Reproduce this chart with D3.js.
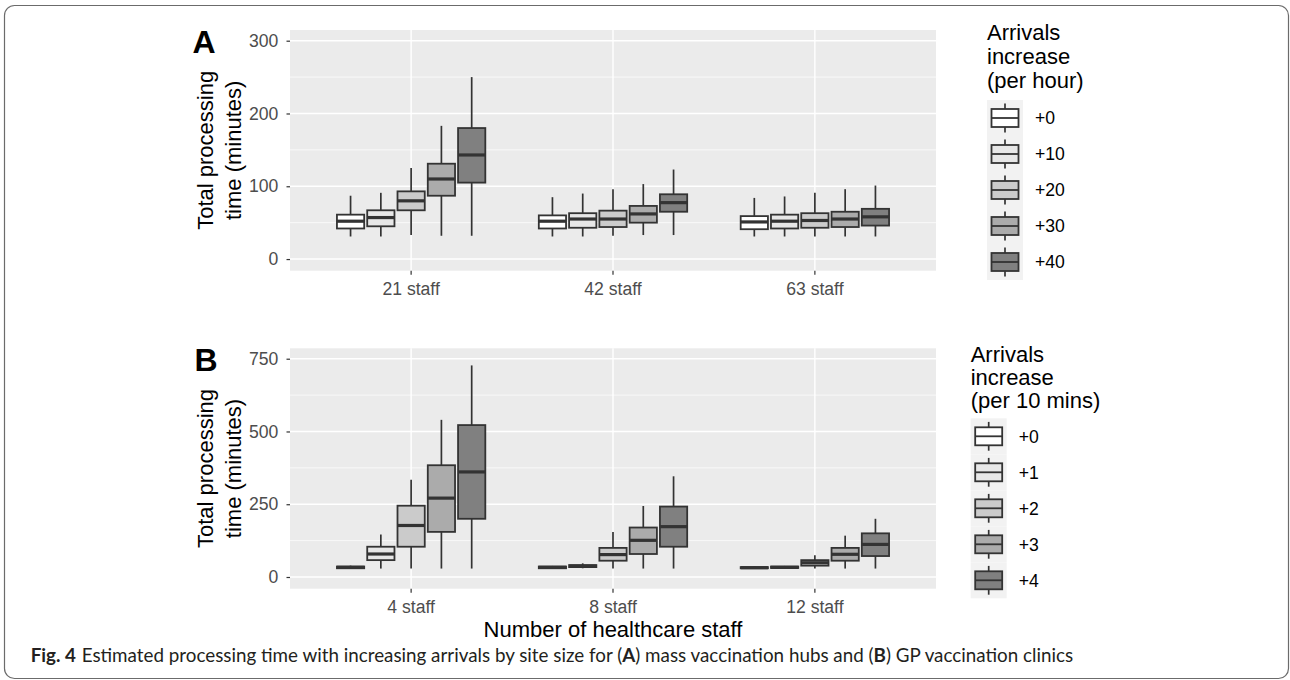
<!DOCTYPE html>
<html>
<head>
<meta charset="utf-8">
<script src="https://cdn.jsdelivr.net/npm/d3@7"></script>
<style>
  html, body { margin: 0; padding: 0; background: #fff; }
  svg { display: block; }
</style>
</head>
<body>
<svg id="chart" width="1290" height="680"></svg>
<script>
// ---------------- DATA ----------------
const categoriesA = ["21 staff", "42 staff", "63 staff"];
const groupsA = ["+0", "+10", "+20", "+30", "+40"];
// rows = categories, columns = groups
const whiskerLowA = [[31, 31, 33, 32, 32], [31, 31, 32, 33, 33], [31, 31, 31, 31, 31]];
const q1A         = [[42, 45, 67, 87, 105], [42, 43, 44, 50, 65], [41, 42, 43, 44, 46]];
const medianA     = [[52, 57, 80, 110, 143], [52, 55, 55, 62, 77.5], [51, 52, 53, 55, 58]];
const q3A         = [[61, 67, 93, 131, 180], [60, 63, 66.5, 73, 89], [59, 61, 63, 65, 69]];
const whiskerHighA= [[87, 91, 125, 183, 250], [85, 90, 96, 103, 123], [84, 86, 91, 96, 101]];
const yTicksA = [0, 100, 200, 300];
const yMinorA = [50, 150, 250];

const categoriesB = ["4 staff", "8 staff", "12 staff"];
const groupsB = ["+0", "+1", "+2", "+3", "+4"];
const whiskerLowB = [[29, 29, 29, 29, 29], [29, 30, 29, 29, 29], [29, 29, 29, 29, 29]];
const q1B         = [[30, 58, 104, 155, 200], [30, 34, 56, 79, 104], [30, 31, 39, 56, 72]];
const medianB     = [[33, 79, 177, 271, 361], [33, 37, 77, 126, 173], [32, 33, 49, 78, 112]];
const q3B         = [[36, 104, 245, 384, 522], [36, 41, 100, 170, 242], [34, 36, 58, 100, 150]];
const whiskerHighB= [[39, 146, 334, 540, 727], [38, 47, 155, 244, 346], [36, 38, 75, 142, 200]];
const yTicksB = [0, 250, 500, 750];
const yMinorB = [125, 375, 625];

const fills = ["#FFFFFF", "#E7E7E7", "#CBCBCB", "#ABABAB", "#808080"];

// ---------------- DRAW ----------------
const svg = d3.select("#chart");
const FONT = "'Liberation Sans', Arial, Helvetica, sans-serif";
const LINE = "#333333";

// outer frame
svg.append("rect")
  .attr("x", 4.5).attr("y", 5.5).attr("width", 1284).attr("height", 673)
  .attr("rx", 10).attr("ry", 10)
  .attr("fill", "none").attr("stroke", "#6b6b6b").attr("stroke-width", 1.2);

function drawPanel(cfg) {
  const g = svg.append("g");
  const left = 290, right = 936;
  const x = d3.scaleBand().domain(cfg.categories).range([left, right])
    .paddingInner(0).paddingOuter(0.1);
  const step = x.step();
  const xInner = d3.scaleBand().domain(cfg.groups)
    .range([-0.375 * step, 0.375 * step]).paddingInner(0.1).paddingOuter(0.05);
  const y = d3.scaleLinear().domain(cfg.domain).range([cfg.bottom, cfg.top]);

  // panel background
  g.append("rect").attr("x", left).attr("y", cfg.top)
    .attr("width", right - left).attr("height", cfg.bottom - cfg.top)
    .attr("fill", "#EBEBEB");

  // minor grid
  g.selectAll(".minor").data(cfg.minor).enter().append("line")
    .attr("x1", left).attr("x2", right)
    .attr("y1", d => y(d)).attr("y2", d => y(d))
    .attr("stroke", "#fff").attr("stroke-width", 0.7);
  // major grid
  g.selectAll(".major").data(cfg.ticks).enter().append("line")
    .attr("x1", left).attr("x2", right)
    .attr("y1", d => y(d)).attr("y2", d => y(d))
    .attr("stroke", "#fff").attr("stroke-width", 1.4);
  g.selectAll(".vmajor").data(cfg.categories).enter().append("line")
    .attr("x1", d => x(d) + step / 2).attr("x2", d => x(d) + step / 2)
    .attr("y1", cfg.top).attr("y2", cfg.bottom)
    .attr("stroke", "#fff").attr("stroke-width", 1.4);

  // boxes
  const bw = xInner.bandwidth();
  cfg.categories.forEach((cat, ci) => {
    const cx0 = x(cat) + step / 2;
    cfg.groups.forEach((grp, gi) => {
      const bx = cx0 + xInner(grp);
      const cx = bx + bw / 2;
      const lo = cfg.lo[ci][gi], q1 = cfg.q1[ci][gi], md = cfg.med[ci][gi],
            q3 = cfg.q3[ci][gi], hi = cfg.hi[ci][gi];
      const bg = g.append("g");
      bg.append("line").attr("x1", cx).attr("x2", cx)
        .attr("y1", y(hi)).attr("y2", y(q3))
        .attr("stroke", LINE).attr("stroke-width", 1.7);
      bg.append("line").attr("x1", cx).attr("x2", cx)
        .attr("y1", y(q1)).attr("y2", y(lo))
        .attr("stroke", LINE).attr("stroke-width", 1.7);
      bg.append("rect").attr("x", bx).attr("y", y(q3))
        .attr("width", bw).attr("height", Math.max(0, y(q1) - y(q3)))
        .attr("fill", fills[gi]).attr("stroke", LINE).attr("stroke-width", 1.8);
      bg.append("line").attr("x1", bx).attr("x2", bx + bw)
        .attr("y1", y(md)).attr("y2", y(md))
        .attr("stroke", LINE).attr("stroke-width", 3.2);
    });
  });

  // y axis
  const yAxis = d3.axisLeft(y).tickValues(cfg.ticks).tickSize(3.5).tickPadding(8.2);
  const ya = g.append("g").attr("transform", `translate(${left},0)`).call(yAxis);
  ya.select(".domain").remove();
  ya.selectAll(".tick line").attr("stroke", LINE).attr("stroke-width", 1.2);
  ya.selectAll(".tick text").attr("fill", "#4D4D4D")
    .style("font-family", FONT).style("font-size", "17.6px");

  // x axis
  const xAxis = d3.axisBottom(x).tickSize(4).tickPadding(7.5);
  const xa = g.append("g").attr("transform", `translate(0,${cfg.bottom})`).call(xAxis);
  xa.select(".domain").remove();
  xa.selectAll(".tick line").attr("stroke", LINE).attr("stroke-width", 1.2);
  xa.selectAll(".tick text").attr("fill", "#4D4D4D")
    .style("font-family", FONT).style("font-size", "17.6px");

  // y title
  const yc = (cfg.top + cfg.bottom) / 2;
  [["Total processing", 213], ["time (minutes)", 240.5]].forEach(([t, bx]) => {
    g.append("text").attr("transform", `translate(${bx},${yc}) rotate(-90)`)
      .attr("text-anchor", "middle").attr("fill", "#000")
      .style("font-family", FONT).style("font-size", "22px").text(t);
  });

  // panel tag
  g.append("text").attr("x", cfg.tagX).attr("y", cfg.tagY)
    .style("font-family", FONT).style("font-size", "32px").style("font-weight", "bold")
    .attr("fill", "#000").text(cfg.tag);

  // legend
  const L = cfg.legend;
  L.title.forEach((t, i) => {
    g.append("text").attr("x", L.x).attr("y", L.titleY + i * L.titleGap)
      .style("font-family", FONT).style("font-size", "22px").attr("fill", "#000").text(t);
  });
  const key = 36;
  cfg.groups.forEach((grp, gi) => {
    const ky = L.keyTop + gi * key;
    const kx = L.x;
    g.append("rect").attr("x", kx).attr("y", ky).attr("width", key).attr("height", key)
      .attr("fill", "#F2F2F2");
    const cx = kx + key / 2;
    g.append("line").attr("x1", cx).attr("x2", cx).attr("y1", ky + key * 0.1).attr("y2", ky + key * 0.9)
      .attr("stroke", LINE).attr("stroke-width", 1.7);
    g.append("rect").attr("x", kx + key * 0.125).attr("y", ky + key * 0.25)
      .attr("width", key * 0.75).attr("height", key * 0.5)
      .attr("fill", fills[gi]).attr("stroke", LINE).attr("stroke-width", 1.8);
    g.append("line").attr("x1", kx + key * 0.125).attr("x2", kx + key * 0.875)
      .attr("y1", ky + key / 2).attr("y2", ky + key / 2)
      .attr("stroke", LINE).attr("stroke-width", 1.8);
    g.append("text").attr("x", kx + key + 12).attr("y", ky + key / 2 + 6.2)
      .style("font-family", FONT).style("font-size", "17.6px").attr("fill", "#000").text(grp);
  });
}

drawPanel({
  categories: categoriesA, groups: groupsA,
  lo: whiskerLowA, q1: q1A, med: medianA, q3: q3A, hi: whiskerHighA,
  ticks: yTicksA, minor: yMinorA,
  domain: [-16, 314.7], top: 30, bottom: 270.7,
  tag: "A", tagX: 192.5, tagY: 53,
  legend: { x: 987, title: ["Arrivals", "increase", "(per hour)"], titleY: 39.5, titleGap: 24, keyTop: 100 }
});

drawPanel({
  categories: categoriesB, groups: groupsB,
  lo: whiskerLowB, q1: q1B, med: medianB, q3: q3B, hi: whiskerHighB,
  ticks: yTicksB, minor: yMinorB,
  domain: [-40.2, 785.8], top: 348.3, bottom: 588.7,
  tag: "B", tagX: 194.5, tagY: 370.5,
  legend: { x: 970.7, title: ["Arrivals", "increase", "(per 10 mins)"], titleY: 361.5, titleGap: 23, keyTop: 418.3 }
});

// x axis title
svg.append("text").attr("x", 613).attr("y", 636.5).attr("text-anchor", "middle")
  .style("font-family", FONT).style("font-size", "22px").attr("fill", "#000")
  .text("Number of healthcare staff");

// caption
const CAPFONT = "Lato, 'Open Sans', sans-serif";
const probe = svg.append("text").style("font-family", CAPFONT).style("font-size", "18px")
  .text("Estimated processing time with increasing arrivals by site size for ");
const w = probe.node().getComputedTextLength();
probe.remove();
const capSize = 18 * (613 - 81.7) / w;
const cap = svg.append("text").attr("x", 30.7).attr("y", 662)
  .style("font-family", CAPFONT).style("font-size", capSize + "px").attr("fill", "#231F20");
cap.append("tspan").style("font-weight", "bold").text("Fig. 4");
cap.append("tspan").attr("x", 81.7).text("Estimated processing time with increasing arrivals by site size for (");
cap.append("tspan").style("font-weight", "bold").text("A");
cap.append("tspan").text(") mass vaccination hubs and (");
cap.append("tspan").style("font-weight", "bold").text("B");
cap.append("tspan").text(") GP vaccination clinics");
</script>
</body>
</html>
